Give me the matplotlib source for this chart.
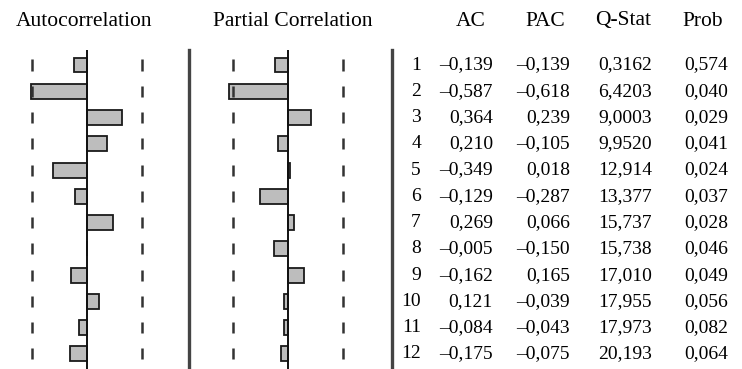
import matplotlib
matplotlib.use('Agg')
import matplotlib.pyplot as plt

# correlogram values (lags 1..12)
lags = list(range(1, 13))
ac = [-0.139, -0.587, 0.364, 0.210, -0.349, -0.129, 0.269, -0.005, -0.162, 0.121, -0.084, -0.175]
pac = [-0.139, -0.618, 0.239, -0.105, 0.018, -0.287, 0.066, -0.150, 0.165, -0.039, -0.043, -0.075]
qstat = [0.3162, 6.4203, 9.0003, 9.9520, 12.914, 13.377, 15.737, 15.738, 17.010, 17.955, 17.973, 20.193]
prob = [0.574, 0.040, 0.029, 0.041, 0.024, 0.037, 0.028, 0.046, 0.049, 0.056, 0.082, 0.064]
headers = ['AC', 'PAC', 'Q-Stat', 'Prob']
bound = 2 / len(lags) ** 0.5

plt.rcParams['font.family'] = ['Liberation Serif', 'DejaVu Serif']
W, H = 742, 369
fig = plt.figure(figsize=(W / 100, H / 100), dpi=100)

scale = 96.0          # px per unit correlation
row0, dy = 65.0, 26.27  # pixel y of lag 1, row spacing
top_px = 50.0
ylim = (len(lags) + (H - row0 - dy * (len(lags) - 1)) / dy, 1 - (row0 - top_px) / dy)


def fmt(v, nd=3):
    s = f'{abs(v):.{nd}f}'.replace('.', ',')
    return ('\u2013' + s) if v < 0 else s


def fmt_q(v):
    s = f'{v:.{5 - len(str(int(v)))}f}'
    return s.replace('.', ',')


def panel(x0, x1, center, values):
    ax = fig.add_axes([x0 / W, 0, (x1 - x0) / W, (H - top_px) / H])
    ax.set_xlim((x0 - center) / scale, (x1 - center) / scale)
    ax.set_ylim(*ylim)
    ax.axis('off')
    ax.barh(lags, values, height=0.57, color='#bdbdbd', edgecolor='#1a1a1a', linewidth=1.3)
    ax.axvline(0, color='#111111', linewidth=1.4)
    for b in (-bound, bound):
        ax.vlines([b] * len(lags), [l - 0.21 for l in lags], [l + 0.21 for l in lags],
                  color='#333333', linewidth=1.8)
    return ax


ax1 = panel(0, 189, 87, ac)
ax2 = panel(189, 392, 288, pac)

# separators
for xs in (189, 392):
    fig.add_artist(plt.Line2D([xs / W, xs / W], [0, (H - top_px) / H], color='#444444', linewidth=2.4))

head_y = 1 - 21 / H
fig.text(84 / W, head_y, 'Autocorrelation', ha='center', va='center', fontsize=15.5)
fig.text(293 / W, head_y, 'Partial Correlation', ha='center', va='center', fontsize=15.5)

# table
ax3 = fig.add_axes([392 / W, 0, (W - 392) / W, (H - top_px) / H])
ax3.set_xlim(392, W)
ax3.set_ylim(*ylim)
ax3.axis('off')
col_right = [493, 570, 652, 728]
head_x = [471, 545, 623, 703]
for hx, h in zip(head_x, headers):
    fig.text(hx / W, head_y, h, ha='center', va='center', fontsize=15.5)
for i, lag in enumerate(lags):
    cells = [fmt(ac[i]), fmt(pac[i]), fmt_q(qstat[i]), fmt(prob[i])]
    ax3.text(421, lag, str(lag), ha='right', va='center', fontsize=14)
    for xr, c in zip(col_right, cells):
        ax3.text(xr, lag, c, ha='right', va='center', fontsize=14)

fig.savefig('out.png', dpi=100, facecolor='white')
